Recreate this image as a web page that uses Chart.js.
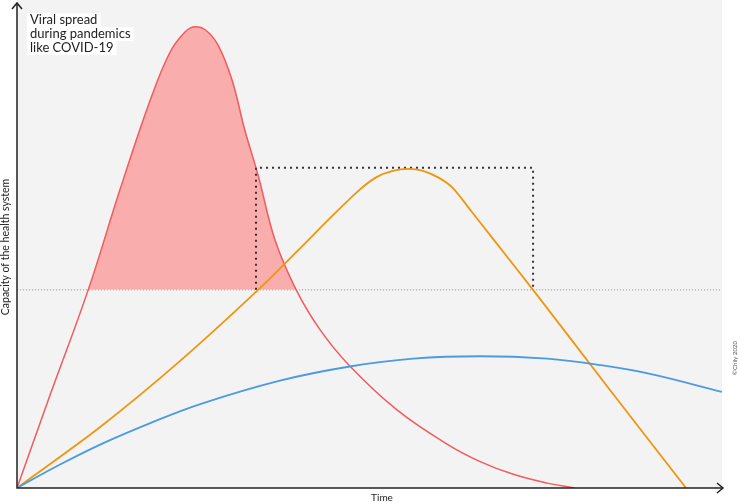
<!DOCTYPE html>
<html>
<head>
<meta charset="utf-8">
<script src="https://cdn.jsdelivr.net/npm/chart.js@4"></script>
<style>
  body { margin: 0; background: #fff; }
  #wrap { width: 740px; height: 503px; }
</style>
</head>
<body>
<div id="wrap"><canvas id="chart" width="740" height="503"></canvas></div>
<script>
// time runs 0..100, capacity 0..100
const redTime   = [0, 4.7, 10.1, 14.6, 18.9, 21.7, 23.8, 25.2, 26.7, 28.5, 30.5, 32.3, 34.2, 36.6, 39.6, 43.0, 47.2, 53.9, 61.0, 65.7, 70.4, 75.2, 79.1];
const redValues = [0, 19.1, 40.6, 61.1, 79.5, 89.3, 93.4, 94.5, 93.9, 90.8, 83.6, 73.4, 64.1, 50.8, 40.6, 32.4, 25.0, 16.0, 9.0, 5.4, 2.8, 1.0, 0];

const orangeTime   = [0, 11.8, 23.1, 34.2, 40.0, 44.4, 48.5, 51.0, 53.3, 55.5, 57.6, 59.8, 61.8, 64.5, 67.5, 73.2, 84.0, 94.9];
const orangeValues = [0, 12.5, 26.0, 40.6, 48.9, 55.3, 61.0, 63.7, 65.0, 65.4, 65.0, 63.6, 61.5, 56.6, 51.1, 40.6, 20.3, 0];

const blueTime   = [0, 6.1, 11.8, 18.9, 26.0, 37.3, 47.2, 56.2, 65.7, 75.2, 82.7, 89.8, 100];
const blueValues = [0, 4.8, 8.9, 13.3, 17.2, 22.0, 24.9, 26.5, 27.0, 26.5, 25.2, 23.4, 19.7];

const capacity = 40.6;
const boxTime   = [33.9, 33.9, 73.2, 73.2];
const boxValues = [40.6, 65.6, 65.6, 40.6];

const titleLines = ['Viral spread', 'during pandemics', 'like COVID-19'];
const yTitle = 'Capacity of the health system';
const xTitle = 'Time';
const credit = '©Chily 2020';

function pts(xs, ys) {
    return xs.map((x, i) => ({ x: x, y: ys[i] }));
}

// grey panel behind the plot
const backgroundPlugin = {
    id: 'panel',
    beforeDraw: (chart) => {
        const a = chart.chartArea;
        const ctx = chart.ctx;
        ctx.save();
        ctx.fillStyle = '#f3f3f3';
        ctx.fillRect(a.left, 0, a.right - a.left, a.bottom);
        ctx.restore();
    }
};

// axis arrows, labels and the title box
const decorPlugin = {
    id: 'decor',
    afterDraw: (chart) => {
        const a = chart.chartArea;
        const ctx = chart.ctx;
        ctx.save();
        ctx.strokeStyle = '#222';
        ctx.lineWidth = 1.5;
        ctx.beginPath();
        ctx.moveTo(a.left, 3);
        ctx.lineTo(a.left, a.bottom);
        ctx.lineTo(a.right + 1, a.bottom);
        ctx.stroke();
        // arrow heads
        ctx.beginPath();
        ctx.moveTo(a.left - 5, 9);
        ctx.lineTo(a.left, 3);
        ctx.lineTo(a.left + 5, 9);
        ctx.moveTo(a.right - 5, a.bottom - 5);
        ctx.lineTo(a.right + 1, a.bottom);
        ctx.lineTo(a.right - 5, a.bottom + 5);
        ctx.stroke();

        // title with white highlight per line
        ctx.font = '13px Lato';
        ctx.textBaseline = 'alphabetic';
        titleLines.forEach((line, i) => {
            const y = 24 + i * 14;
            const w = ctx.measureText(line).width;
            ctx.fillStyle = '#fff';
            ctx.fillRect(27, y - 11, w + 6, 14);
            ctx.fillStyle = '#222';
            ctx.fillText(line, 30, y);
        });

        ctx.fillStyle = '#222';
        ctx.font = '10px Lato';
        ctx.textAlign = 'center';
        ctx.textBaseline = 'middle';
        ctx.fillText(xTitle, 382, 498);

        ctx.save();
        ctx.translate(6, 247);
        ctx.rotate(-Math.PI / 2);
        ctx.font = '10.5px Lato';
        ctx.fillText(yTitle, 0, 0);
        ctx.restore();

        ctx.save();
        ctx.fillStyle = '#555';
        ctx.font = '6px Lato';
        ctx.translate(735, 358);
        ctx.rotate(-Math.PI / 2);
        ctx.fillText(credit, 0, 0);
        ctx.restore();
        ctx.restore();
    }
};

new Chart(document.getElementById('chart'), {
    type: 'line',
    data: {
        datasets: [
            {
                label: 'fast spread',
                data: pts(redTime, redValues),
                borderColor: '#f25a5e',
                borderWidth: 1.5,
                pointRadius: 0,
                tension: 0.4,
                fill: { target: { value: capacity }, above: '#f9adad', below: 'rgba(0,0,0,0)' },
                order: 3
            },
            {
                label: 'capacity',
                data: pts([0, 100], [capacity, capacity]),
                borderColor: '#999',
                borderWidth: 1,
                borderDash: [1, 2],
                pointRadius: 0,
                fill: false,
                order: 4
            },
            {
                label: 'box',
                data: pts(boxTime, boxValues),
                borderColor: '#333',
                borderWidth: 2,
                borderDash: [2, 4],
                pointRadius: 0,
                fill: false,
                order: 2
            },
            {
                label: 'medium spread',
                data: pts(orangeTime, orangeValues),
                borderColor: '#ef960f',
                borderWidth: 1.8,
                pointRadius: 0,
                tension: 0.3,
                fill: false,
                order: 1
            },
            {
                label: 'slow spread',
                data: pts(blueTime, blueValues),
                borderColor: '#4b9be0',
                borderWidth: 1.8,
                pointRadius: 0,
                tension: 0.4,
                fill: false,
                order: 0
            }
        ]
    },
    options: {
        responsive: false,
        animation: false,
        layout: { padding: { left: 17, right: 18, top: 0, bottom: 15 } },
        plugins: {
            legend: { display: false },
            tooltip: { enabled: false }
        },
        scales: {
            x: { type: 'linear', min: 0, max: 100, display: false },
            y: { type: 'linear', min: 0, max: 100, display: false }
        }
    },
    plugins: [backgroundPlugin, decorPlugin]
});
</script>
</body>
</html>
